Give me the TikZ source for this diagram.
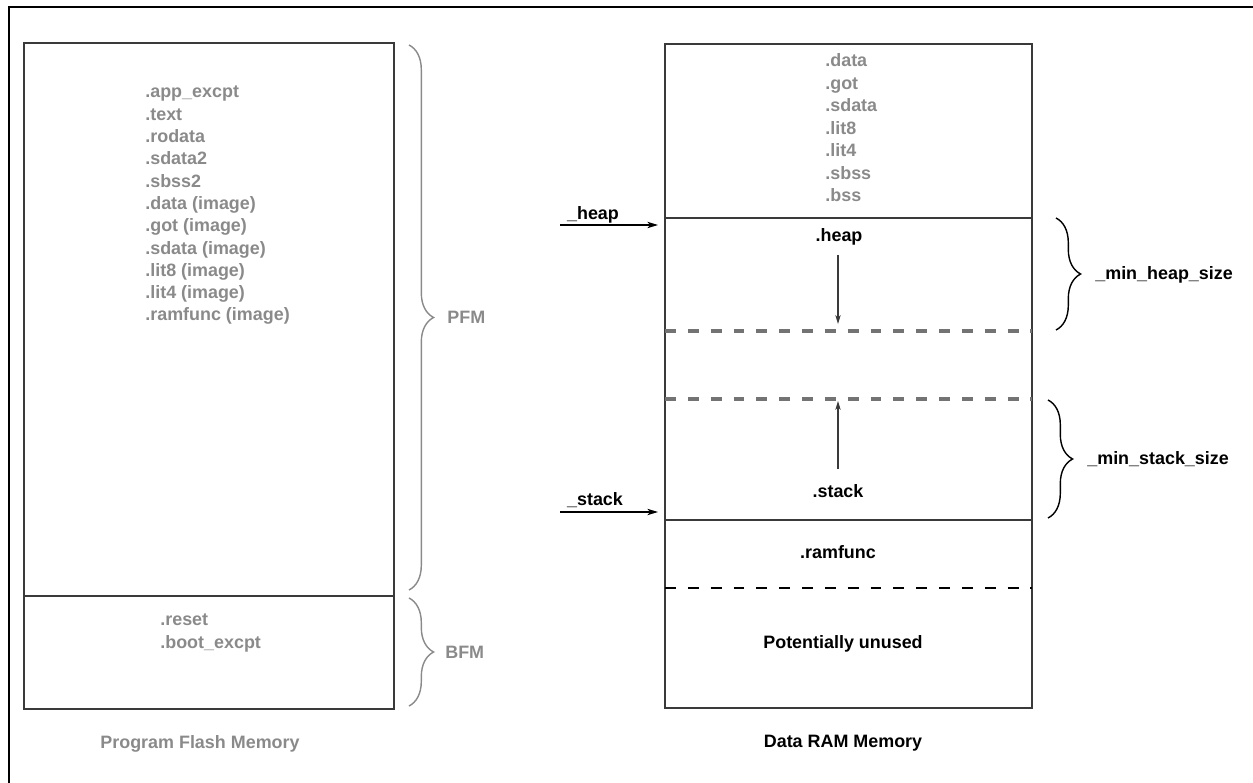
\documentclass[tikz,border=0pt]{standalone}
\usepackage{fontspec}
\setmainfont{Liberation Sans}
\usetikzlibrary{arrows.meta,decorations.pathreplacing}

\definecolor{secgray}{HTML}{8A8A8A}
\definecolor{boxline}{HTML}{3A3A3A}

\begin{document}
\begin{tikzpicture}[x=0.02cm, y=-0.02cm,
  lbl/.style={font=\fontsize{10.2}{12}\selectfont\bfseries, inner sep=0pt, anchor=base},
  sec/.style={lbl, text=secgray, anchor=base west},
  membox/.style={draw=boxline, line width=0.9pt},
  gapline/.style={draw=black!55, line width=2pt, dash pattern=on 6.2pt off 6.8pt},
  cutline/.style={draw=black, line width=0.8pt, dash pattern=on 6.2pt off 6.8pt},
  ptr/.style={-{Stealth[length=6pt,width=3.6pt,inset=1.5pt]}, line width=0.8pt},
  growarrow/.style={-{Stealth[length=5pt,width=3pt,inset=1.2pt]}, line width=0.7pt, draw=boxline},
  sizebrace/.style={decorate, decoration={brace, amplitude=14pt}, line width=0.8pt}]
\useasboundingbox (0,0) rectangle (1253,783);

% frame
\draw[line width=1.4pt] (9,783) -- (9,7) -- (1253,7);

% program flash memory
\draw[membox] (24,43) rectangle (394,709);
\draw[membox] (24,596) -- (394,596);
\foreach \s [count=\i from 0] in {.app\_excpt, .text, .rodata, .sdata2, .sbss2,
    .data (image), .got (image), .sdata (image), .lit8 (image), .lit4 (image),
    .ramfunc (image)}
  \node[sec] (pfm\i) at (145, 98+22.3*\i) {\s};
\node[sec] (reset) at (160,625) {.reset};
\node[sec] (bootx) at (160,648) {.boot\_excpt};
\node[lbl, text=secgray] (pflash) at (200,748) {Program Flash Memory};

\draw[sizebrace, secgray] (409,45) -- (409,590);
\draw[sizebrace, secgray] (409,598) -- (409,706);
\node[sec] (pfm) at (447,324) {PFM};
\node[sec] (bfm) at (445,658) {BFM};

% data ram memory
\draw[membox] (665,44) rectangle (1032,708);
\draw[membox] (665,218) -- (1032,218);
\draw[membox] (665,520) -- (1032,520);
\draw[gapline] (665,331) -- (1032,331);
\draw[gapline] (665,399) -- (1032,399);
\draw[cutline] (665,588) -- (1032,588);
\foreach \s [count=\i from 0] in {.data, .got, .sdata, .lit8, .lit4, .sbss, .bss}
  \node[sec] (ram\i) at (825, 67+22.5*\i) {\s};
\node[lbl] (heaplbl) at (839,242) {.heap};
\node[lbl] (stacklbl) at (838,497) {.stack};
\node[lbl] (ramfn) at (838,558) {.ramfunc};
\node[lbl] (unused) at (843,648) {Potentially unused};
\node[lbl] (dram) at (843,747) {Data RAM Memory};

\coordinate (heaptop) at (838,255);
\coordinate (heapend) at (838,324);
\coordinate (stackbot) at (838,469);
\coordinate (stacktop) at (838,401);
\draw[growarrow] (heaptop) -- (heapend);
\draw[growarrow] (stackbot) -- (stacktop);

% pointers
\node[lbl] (heapptr) at (593,220) {\_heap};
\node[lbl] (stackptr) at (595,505) {\_stack};
\coordinate (heapsrc) at (560,225);
\coordinate (heapdst) at (658,225);
\coordinate (stacksrc) at (560,512);
\coordinate (stackdst) at (658,512);
\draw[ptr] (heapsrc) -- (heapdst);
\draw[ptr] (stacksrc) -- (stackdst);

% minimum sizes
\draw[sizebrace] (1056,218) -- (1056,330);
\draw[sizebrace] (1048,400) -- (1048,518);
\node[lbl, anchor=base west] (minheap) at (1095,280) {\_min\_heap\_size};
\node[lbl, anchor=base west] (minstack) at (1087,464) {\_min\_stack\_size};
\end{tikzpicture}
\end{document}
